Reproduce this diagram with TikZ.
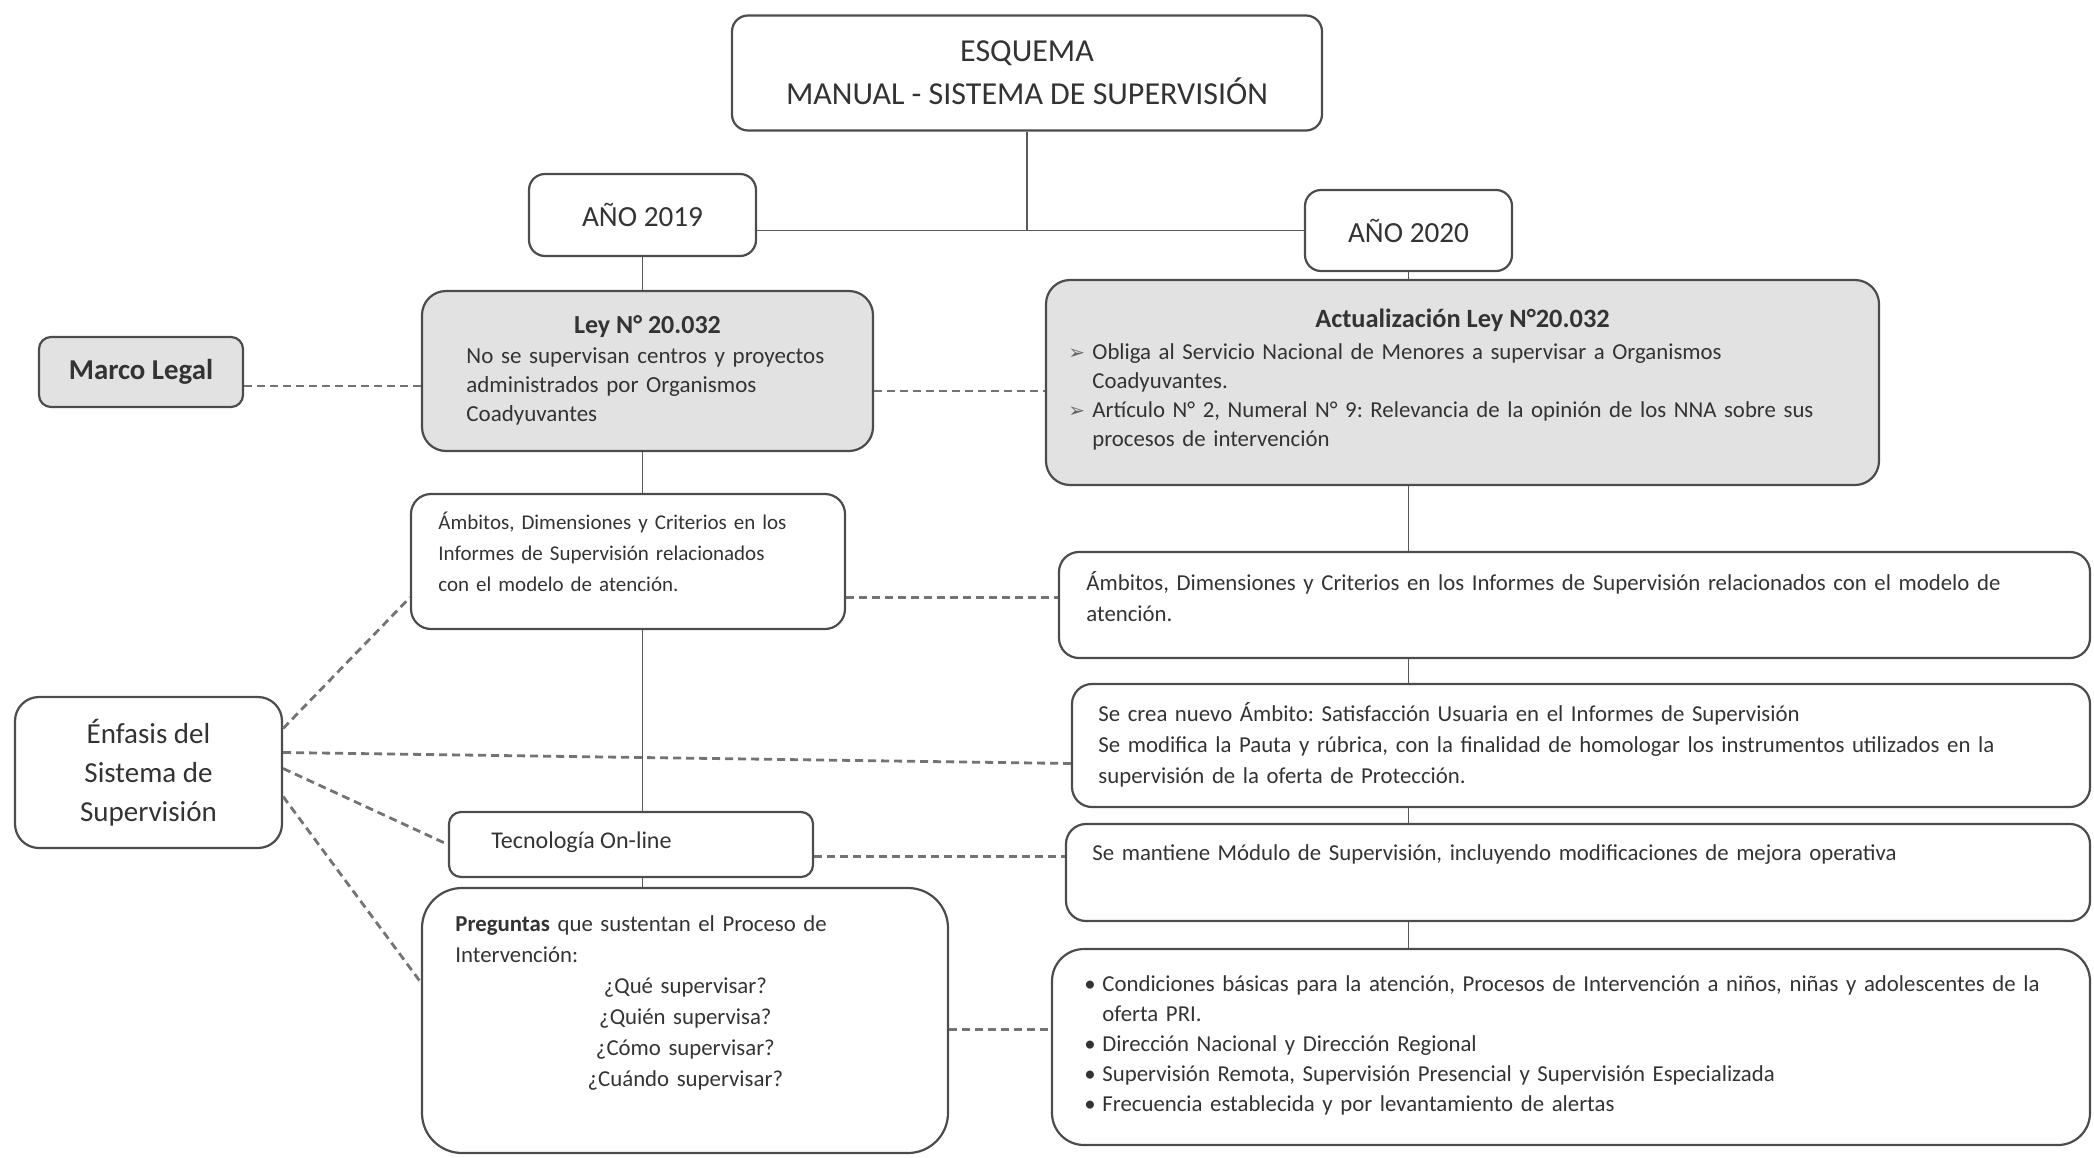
\documentclass[tikz,border=0pt]{standalone}
\usepackage{fontspec}
\setmainfont{Carlito}
\newfontfamily\symfont{DejaVu Sans}
\usetikzlibrary{positioning}

\definecolor{boxgray}{HTML}{E2E2E2}
\definecolor{inkgray}{HTML}{333333}
\tikzset{
  box/.style={draw=black!70, line width=1.1pt, rounded corners=8pt, inner sep=0pt, text=inkgray},
  graybox/.style={box, fill=boxgray},
  txt/.style={inner sep=0pt, text=inkgray, font=\fontsize{11.4}{15.5}\selectfont, align=left},
  link/.style={draw=black!65, line width=0.9pt},
  dashline/.style={draw=black!55, line width=1.4pt, dash pattern=on 4pt off 2.5pt},
}
\newcommand{\arrowmark}{{\symfont\fontsize{10}{10}\selectfont\color{black!60}➢}}
\newcommand{\bul}{\makebox[9pt][l]{•}}
\frenchspacing

\begin{document}
\begin{tikzpicture}[x=0.5pt, y=-0.5pt]
  \useasboundingbox (0,0) rectangle (2094,1157);
  % top of the scheme
  \node[box, minimum width=295pt, minimum height=57.5pt, align=center,
        font=\fontsize{16}{21.5}\selectfont] (title) at (1027,73)
        {ESQUEMA\\MANUAL - SISTEMA DE SUPERVISIÓN};
  \node[box, minimum width=113.5pt, minimum height=41pt, font=\fontsize{14.6}{17}\selectfont] (y2019) at (642.5,215) {AÑO 2019};
  \node[box, minimum width=103.5pt, minimum height=40.5pt, font=\fontsize{14.6}{17}\selectfont] (y2020) at (1408.5,230.5) {AÑO 2020};

  % marco legal row
  \node[graybox, rounded corners=6pt, minimum width=102pt, minimum height=35pt,
        font=\bfseries\fontsize{14.4}{17}\selectfont] (marco) at (141,372) {Marco Legal};
  \node[graybox, rounded corners=12pt, minimum width=225.5pt, minimum height=80pt] (ley) at (647.5,371) {};
  \node[txt, anchor=base, font=\bfseries\fontsize{13}{16}\selectfont] (leyhead) at (647.5,333) {Ley N° 20.032};
  \node[txt, anchor=base west, text width=195pt, font=\fontsize{11.5}{14.5}\selectfont] (leytext) at (466,363)
        {No se supervisan centros y proyectos\\administrados por Organismos\\Coadyuvantes};
  \node[graybox, rounded corners=12pt, minimum width=416.5pt, minimum height=102.5pt] (act) at (1462.5,382.5) {};
  \node[txt, anchor=base, font=\bfseries\fontsize{13.2}{15}\selectfont] (acthead) at (1462.5,327) {Actualización Ley N°20.032};
  \node[txt, anchor=base west, text width=395pt, font=\fontsize{11.4}{14.5}\selectfont] (acttext) at (1068,359)
        {\makebox[12pt][l]{\arrowmark}Obliga al Servicio Nacional de Menores a supervisar a Organismos\\
         \hspace*{12pt}Coadyuvantes.\\
         \makebox[12pt][l]{\arrowmark}Artículo N° 2, Numeral N° 9: Relevancia de la opinión de los NNA sobre sus\\
         \hspace*{12pt}procesos de intervención};

  % enfasis rows, 2019 side
  \node[box, rounded corners=12pt, minimum width=133.5pt, minimum height=75.5pt, align=center,
        font=\fontsize{14.5}{19.5}\selectfont] (enfasis) at (148.5,772.5) {Énfasis del\\Sistema de\\Supervisión};
  \node[box, rounded corners=10pt, minimum width=217pt, minimum height=67.5pt] (amb1) at (628,561.5) {};
  \node[txt, anchor=base west, text width=205pt, font=\fontsize{10.5}{15.5}\selectfont] (amb1t) at (438,529)
        {Ámbitos, Dimensiones y Criterios en los\\Informes de Supervisión relacionados\\con el modelo de atención.};
  \node[box, rounded corners=6pt, minimum width=182pt, minimum height=32.5pt] (tecno) at (631,844.5) {};
  \node[txt, anchor=base west, font=\fontsize{12}{15}\selectfont] (tecnot) at (491,848) {Tecnología On-line};
  \node[box, rounded corners=20pt, minimum width=263pt, minimum height=132.5pt] (preg) at (685,1020.5) {};
  \node[txt, anchor=base west, text width=230pt] (pregt) at (455,931)
        {\textbf{Preguntas} que sustentan el Proceso de\\Intervención:\par
         {\centering ¿Qué supervisar?\\¿Quién supervisa?\\¿Cómo supervisar?\\¿Cuándo supervisar?\par}};

  % 2020 side
  \node[box, rounded corners=10pt, minimum width=515.5pt, minimum height=53pt] (amb2) at (1574.5,605) {};
  \node[txt, anchor=base west, text width=490pt] (amb2t) at (1086,590)
        {Ámbitos, Dimensiones y Criterios en los Informes de Supervisión relacionados con el modelo de\\atención.};
  \node[box, rounded corners=10pt, minimum width=509pt, minimum height=61.5pt] (secrea) at (1581,745.5) {};
  \node[txt, anchor=base west, text width=490pt] (secreat) at (1098,721)
        {Se crea nuevo Ámbito: Satisfacción Usuaria en el Informes de Supervisión\\
         Se modifica la Pauta y rúbrica, con la finalidad de homologar los instrumentos utilizados en la\\
         supervisión de la oferta de Protección.};
  \node[box, rounded corners=10pt, minimum width=512pt, minimum height=48.5pt] (semant) at (1578,872.5) {};
  \node[txt, anchor=base west, text width=490pt] (semantt) at (1092,860)
        {Se mantiene Módulo de Supervisión, incluyendo modificaciones de mejora operativa};
  \node[box, rounded corners=16pt, minimum width=519pt, minimum height=98pt] (bullets) at (1571,1047) {};
  \node[txt, anchor=base west, text width=500pt, font=\fontsize{11.4}{15}\selectfont] (bulletst) at (1084,991)
        {\bul Condiciones básicas para la atención, Procesos de Intervención a niños, niñas y adolescentes de la\\
         \hspace*{9pt}oferta PRI.\\
         \bul Dirección Nacional y Dirección Regional\\
         \bul Supervisión Remota, Supervisión Presencial y Supervisión Especializada\\
         \bul Frecuencia establecida y por levantamiento de alertas};

  % solid tree lines
  \draw[link] (title.south) -- (title.south |- y2020.west);
  \draw[link] (y2019.east |- y2020.west) -- (y2020.west);
  \draw[link] (y2019.south) -- (y2019.south |- ley.north);
  \draw[link] (y2020.south) -- (y2020.south |- act.north);
  \foreach \a/\b in {ley/amb1, amb1/tecno, tecno/preg}
    \draw[link] (y2019.south |- \a.south) -- (y2019.south |- \b.north);
  \foreach \a/\b in {act/amb2, amb2/secrea, secrea/semant, semant/bullets}
    \draw[link] (y2020.south |- \a.south) -- (y2020.south |- \b.north);

  % dashed links
  \draw[dashline] ([yshift=-7pt]marco.east) -- ([yshift=-7pt]marco.east -| ley.west);
  \draw[dashline] ([yshift=-10pt]ley.east) -- ([yshift=-10pt]ley.east -| act.west);
  \draw[dashline] ([yshift=-18pt]amb1.east) -- ([yshift=-18pt]amb1.east -| amb2.west);
  \draw[dashline] ([yshift=-6pt]tecno.east) -- ([yshift=-6pt]tecno.east -| semant.west);
  \draw[dashline] ([yshift=-4.5pt]preg.east) -- ([yshift=-4.5pt]preg.east -| bullets.west);
  \draw[dashline] ([yshift=22pt]enfasis.east) -- ([yshift=-18pt]amb1.west);
  \draw[dashline] ([yshift=10pt]enfasis.east) -- ([yshift=-9pt]secrea.west);
  \draw[dashline] ([yshift=2pt]enfasis.east) -- (tecno.west);
  \draw[dashline] ([yshift=-12pt]enfasis.east) -- ([yshift=19pt]preg.west);
\end{tikzpicture}
\end{document}
